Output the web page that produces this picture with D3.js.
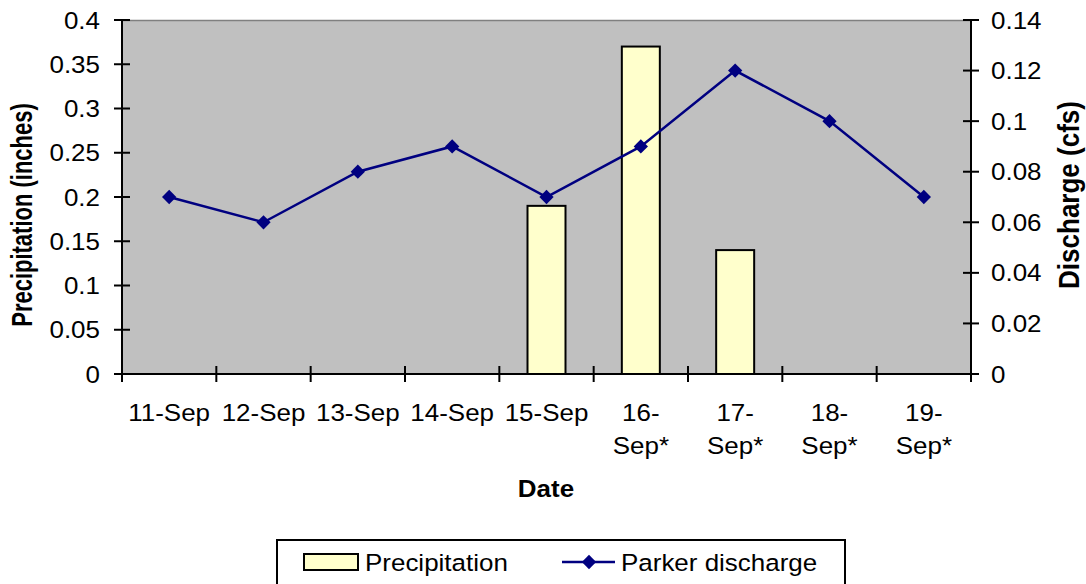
<!DOCTYPE html>
<html><head><meta charset="utf-8">
<script src="https://cdn.jsdelivr.net/npm/d3@7"></script>
<style>body{margin:0;background:#fff}svg{display:block;font-family:"Liberation Sans",Arial,sans-serif}</style>
</head><body><svg id="c" width="1086" height="584"></svg>
<script>
const categories = ["11-Sep","12-Sep","13-Sep","14-Sep","15-Sep","16-Sep*","17-Sep*","18-Sep*","19-Sep*"];
const precipitation = [0, 0, 0, 0, 0.19, 0.37, 0.14, 0, 0];
const discharge = [0.07, 0.06, 0.08, 0.09, 0.07, 0.09, 0.12, 0.10, 0.07];
const leftTicks = [0,0.05,0.1,0.15,0.2,0.25,0.3,0.35,0.4];
const rightTicks = [0,0.02,0.04,0.06,0.08,0.1,0.12,0.14];

const svg = d3.select("#c");
const L=122, R=971, T=20, B=374;
const SX = 1.06, fs = 24.5;
const x = d3.scaleBand().domain(categories).range([L,R]);
const yL = d3.scaleLinear().domain([0,0.4]).range([B,T]);
const yR = d3.scaleLinear().domain([0,0.14]).range([B,T]);

function htext(px, py, str, anchor, bold){
  return svg.append("text").attr("transform",`translate(${px},${py}) scale(${SX},1)`)
    .attr("text-anchor",anchor||"start").attr("font-size",fs)
    .attr("font-weight",bold?"bold":"normal").text(str);
}

svg.append("rect").attr("x",L).attr("y",T).attr("width",R-L).attr("height",B-T).attr("fill","#c0c0c0");
svg.append("line").attr("x1",L).attr("x2",R).attr("y1",T+0.5).attr("y2",T+0.5).attr("stroke","#808080").attr("stroke-width",1.5);

// bars
const bw = 38;
svg.append("g").selectAll("rect").data(categories.map((c,i)=>({c,v:precipitation[i]})).filter(d=>d.v>0))
 .join("rect")
 .attr("x",d=>x(d.c)+x.bandwidth()/2-bw/2).attr("width",bw)
 .attr("y",d=>yL(d.v)).attr("height",d=>B-yL(d.v))
 .attr("fill","#ffffcc").attr("stroke","#000").attr("stroke-width",2);

// axes
const ax = svg.append("g").attr("stroke","#000").attr("stroke-width",2);
ax.append("line").attr("x1",L).attr("x2",L).attr("y1",T).attr("y2",B);
ax.append("line").attr("x1",R).attr("x2",R).attr("y1",T).attr("y2",B);
ax.append("line").attr("x1",L).attr("x2",R).attr("y1",B).attr("y2",B);
leftTicks.forEach(t=>{
  ax.append("line").attr("x1",L-8).attr("x2",L+8).attr("y1",yL(t)).attr("y2",yL(t));
  htext(L-22, yL(t)+8.5, d3.format("")(t), "end");
});
rightTicks.forEach(t=>{
  ax.append("line").attr("x1",R-8).attr("x2",R+8).attr("y1",yR(t)).attr("y2",yR(t));
  htext(R+20, yR(t)+8.5, d3.format("")(t), "start");
});
const xticks = categories.map(c=>x(c)).concat([R]);
xticks.forEach(px=>{
  ax.append("line").attr("x1",px).attr("x2",px).attr("y1",B-8).attr("y2",B+8);
});
categories.forEach(c=>{
  const cx = x(c)+x.bandwidth()/2;
  if(c.endsWith("*")){
    const parts = c.split("-");
    htext(cx, 421, parts[0]+"-", "middle");
    htext(cx, 454, parts[1], "middle");
  } else {
    htext(cx, 421, c, "middle");
  }
});

// line
const line = d3.line().x((d,i)=>x(categories[i])+x.bandwidth()/2).y(d=>yR(d));
svg.append("path").datum(discharge).attr("d",line).attr("fill","none").attr("stroke","#000080").attr("stroke-width",2.5);
const diamond = d3.symbol().type(d3.symbolDiamond2).size(130);
svg.append("g").selectAll("path").data(discharge).join("path")
 .attr("transform",(d,i)=>`translate(${x(categories[i])+x.bandwidth()/2},${yR(d)})`)
 .attr("d",diamond).attr("fill","#000080");

// titles
svg.append("text").attr("transform","translate(32,215) rotate(-90) scale(1,1.3)").attr("text-anchor","middle").attr("font-size",22).attr("font-weight","bold").text("Precipitation (inches)");
svg.append("text").attr("transform","translate(1079,195) rotate(-90) scale(1,1.1)").attr("text-anchor","middle").attr("font-size",26).attr("font-weight","bold").text("Discharge (cfs)");
htext(546, 497, "Date", "middle", true);

// legend
svg.append("rect").attr("x",277).attr("y",540).attr("width",568).attr("height",60).attr("fill","#fff").attr("stroke","#000").attr("stroke-width",2);
svg.append("rect").attr("x",304).attr("y",554).attr("width",54).attr("height",16).attr("fill","#ffffcc").attr("stroke","#000").attr("stroke-width",2);
htext(365, 571, "Precipitation");
svg.append("line").attr("x1",562).attr("x2",615).attr("y1",562).attr("y2",562).attr("stroke","#000080").attr("stroke-width",2.5);
svg.append("path").attr("transform","translate(589,562)").attr("d",diamond).attr("fill","#000080");
htext(621, 571, "Parker discharge");
</script></body></html>
